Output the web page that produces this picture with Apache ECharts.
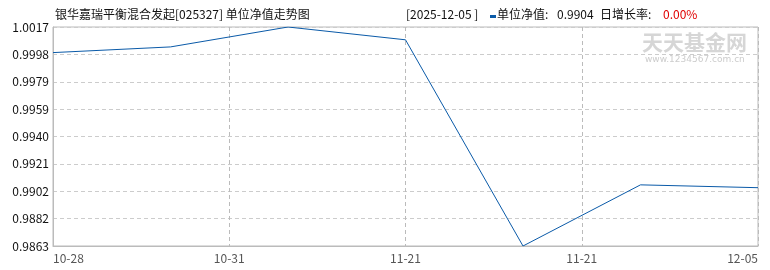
<!DOCTYPE html>
<html><head><meta charset="utf-8">
<script src="https://cdn.jsdelivr.net/npm/echarts@6/dist/echarts.min.js"></script>
<style>html,body{margin:0;padding:0;background:#fff}#c{width:770px;height:270px}</style>
</head><body><div id="c"></div>
<script>
const xPositions = [0, 1, 2, 3, 4, 5, 6];
const navValues = [0.9999, 1.0003, 1.0017, 1.0008, 0.9863, 0.9906, 0.9904];
const xTickLabels = ['10-28', '10-31', '11-21', '11-21', '12-05'];
const yTickValues = [0.9863, 0.988225, 0.99015, 0.992075, 0.994, 0.995925, 0.99785, 0.999775, 1.0017];
const yTickLabels = ['0.9863', '0.9882', '0.9902', '0.9921', '0.9940', '0.9959', '0.9979', '0.9998', '1.0017'];
const titleText = '银华嘉瑞平衡混合发起[025327] 单位净值走势图';
const dateText = '[2025-12-05 ]';
const navLabel = '单位净值:';
const navNumber = '0.9904';
const rateLabel = '日增长率:';
const rateText = '0.00%';

const font = '"Noto Sans CJK SC", "DejaVu Sans", sans-serif';
const chart = echarts.init(document.getElementById('c'), null, {renderer: 'canvas'});
chart.setOption({
  animation: false,
  grid: {left: 53, right: 12, top: 27, bottom: 24, show: true, borderColor: '#bbb', borderWidth: 1},
  xAxis: {
    type: 'value', min: 0, max: 6, interval: 1.5,
    axisLine: {show: true, lineStyle: {color: '#bbb'}},
    axisTick: {show: false},
    splitLine: {show: true, lineStyle: {color: '#bbb', type: [4, 3]}},
    axisLabel: {
      color: '#555', fontSize: 12, fontFamily: font, margin: 6,
      alignMinLabel: 'left', alignMaxLabel: 'right',
      formatter: v => xTickLabels[Math.round(v / 1.5)] || ''
    }
  },
  yAxis: {
    type: 'value', min: yTickValues[0], max: yTickValues[yTickValues.length - 1],
    axisLine: {show: true, lineStyle: {color: '#bbb'}},
    axisTick: {show: false, customValues: yTickValues},
    splitLine: {show: true, lineStyle: {color: '#ccc', type: [4, 3]}},
    axisLabel: {
      customValues: yTickValues,
      color: '#111', fontSize: 12, fontFamily: font, margin: 4,
      formatter: v => {
        let best = 0, d = Infinity;
        yTickValues.forEach((t, i) => { const dd = Math.abs(t - v); if (dd < d) { d = dd; best = i; } });
        return yTickLabels[best];
      }
    }
  },
  series: [{
    type: 'line', data: xPositions.map((x, i) => [x, navValues[i]]),
    showSymbol: false, symbol: 'none',
    lineStyle: {color: '#0a5aa8', width: 1}
  }],
  graphic: [
    {type: 'text', left: 55, top: 8, style: {text: titleText, font: '12px ' + font, fill: '#111'}},
    {type: 'text', left: 406, top: 8, style: {text: dateText, font: '12px ' + font, fill: '#111'}},
    {type: 'rect', left: 490, top: 15, shape: {width: 6, height: 3}, style: {fill: '#0a5aa8'}},
    {type: 'text', left: 497, top: 8, style: {text: navLabel, font: '12px ' + font, fill: '#111'}},
    {type: 'text', left: 557, top: 8, style: {text: navNumber, font: '12px ' + font, fill: '#111', letterSpacing: 0.8}},
    {type: 'text', left: 600, top: 8, style: {text: rateLabel, font: '12px ' + font, fill: '#111'}},
    {type: 'text', left: 663, top: 8, style: {text: rateText, font: '12px ' + font, fill: '#e00000'}},
    {type: 'text', left: 642, top: 32, z: 100, style: {text: '天天基金网', font: 'bold 21px ' + font, fill: '#d6d6d6'}},
    {type: 'text', left: 645, top: 55, z: 100, style: {text: 'www.1234567.com.cn', font: '9px "DejaVu Sans", sans-serif', fill: '#cccccc', letterSpacing: 0.3}}
  ]
});
</script></body></html>
